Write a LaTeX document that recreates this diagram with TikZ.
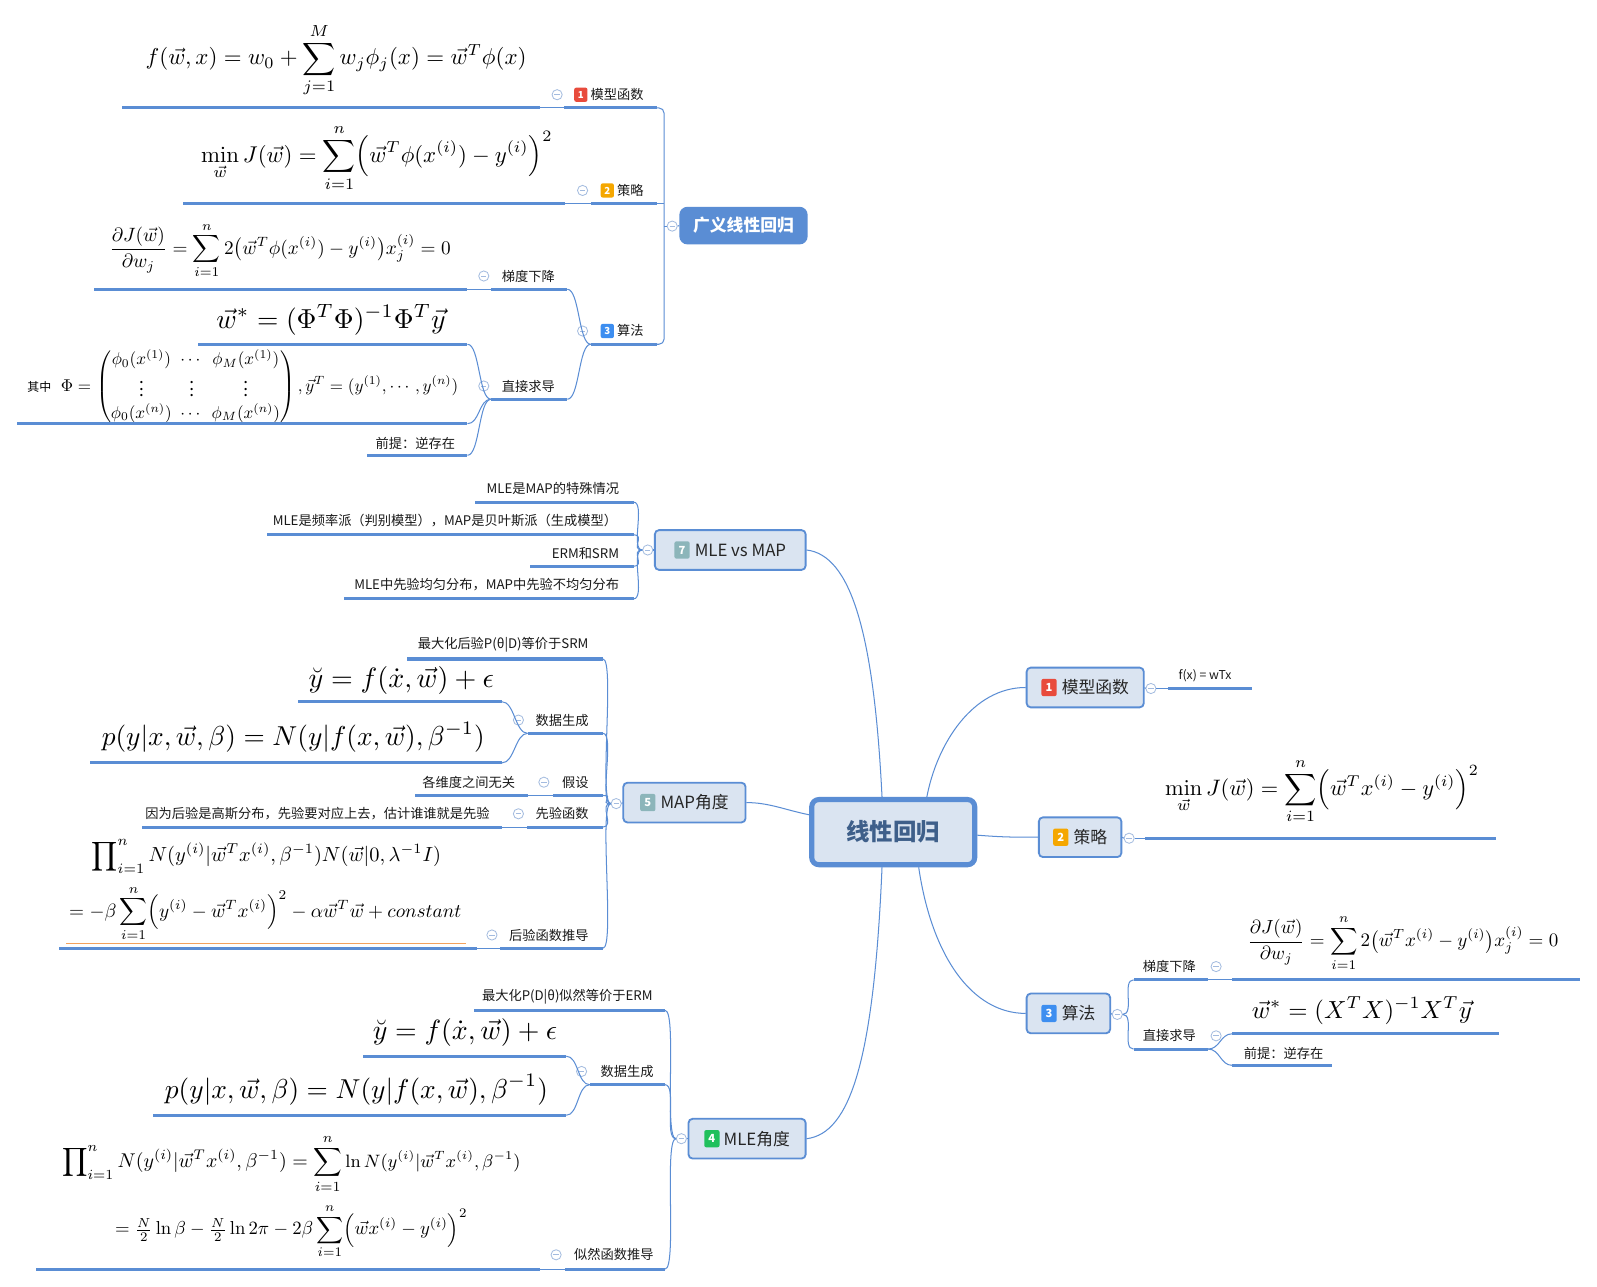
\documentclass[tikz,border=0pt]{standalone}
\usepackage{amsmath}
\usepackage{amssymb}
\usepackage{graphicx}
\usepackage[no-math]{fontspec}
\setmainfont{Noto Sans CJK SC}
\usepackage{tikz}

\definecolor{lineblue}{HTML}{5A8DD4}
\definecolor{topicfill}{HTML}{DAE4F1}
\definecolor{rootblue}{HTML}{3E5F8A}
\definecolor{foldline}{HTML}{A3BBDF}
\definecolor{badred}{HTML}{E84B3C}
\definecolor{badorange}{HTML}{F5A700}
\definecolor{badblue}{HTML}{3D8EF0}
\definecolor{badgreen}{HTML}{20C05C}
\definecolor{badgrey}{HTML}{8CB5BA}
\definecolor{noteorange}{HTML}{F4A25C}

\tikzset{
  badgebox/.style={rounded corners=2pt,inner sep=0pt,minimum width=15pt,minimum height=17pt,
    text=white,font=\fontsize{11}{11}\selectfont\bfseries},
  minibadgebox/.style={badgebox,minimum width=13pt,minimum height=14pt,
    font=\fontsize{9.5}{9.5}\selectfont\bfseries},
  rootnode/.style={draw=lineblue,line width=5pt,fill=topicfill,rounded corners=7pt,
    minimum width=160pt,minimum height=64pt,text=rootblue,font=\fontsize{23}{26}\selectfont\bfseries},
  topic/.style={draw=lineblue,line width=1.8pt,fill=topicfill,rounded corners=4pt,
    minimum height=39pt,inner sep=0pt,text=black!85,font=\fontsize{16.5}{18}\selectfont},
  gnode/.style={fill=lineblue,rounded corners=8pt,minimum width=126pt,minimum height=37pt,
    text=white,font=\fontsize{16.5}{18}\selectfont\bfseries},
  lbl/.style={inner sep=0pt,text=black!90,font=\fontsize{13}{14}\selectfont},
  fnode/.style={inner sep=0pt},
  bar/.style={fill=lineblue,inner sep=0pt,outer sep=0pt,minimum height=3pt},
  fold/.style={circle,draw=foldline,fill=white,line width=0.8pt,inner sep=0pt,minimum size=10pt,
    path picture={\draw [foldline,line width=0.8pt]
      ([xshift=-2.6pt]path picture bounding box.center) -- ([xshift=2.6pt]path picture bounding box.center);}},
  link/.style={draw=lineblue,line width=1pt},
  lbranch/.style={to path={.. controls +(-12pt,0pt) and +(12pt,0pt) .. (\tikztotarget)}},
  rbranch/.style={to path={.. controls +(12pt,0pt) and +(-12pt,0pt) .. (\tikztotarget)}}
}

\newcommand{\fml}[2]{\resizebox{#1pt}{!}{$\displaystyle #2$}}
\newcommand{\badge}[2]{\tikz[baseline=-6.2pt]\node[badgebox,fill=#1]{#2};}
\newcommand{\minibadge}[2]{\tikz[baseline=-4.8pt]\node[minibadgebox,fill=#1]{#2};}

\begin{document}
\begin{tikzpicture}[x=1pt,y=-1pt]
\fill [white] (0,0) rectangle (1568,1263);
\useasboundingbox (0,0) rectangle (1568,1263);

\node (root) at (877,817)    [rootnode] {线性回归};
\node (n1)   at (1065.5,675) [topic,minimum width=115pt] {\badge{badred}{1}\hspace{5pt}模型函数};
\node (n2)   at (1060.5,822) [topic,minimum width=81pt]  {\badge{badorange}{2}\hspace{5pt}策略};
\node (n3)   at (1049,995)   [topic,minimum width=82pt]  {\badge{badblue}{3}\hspace{5pt}算法};
\node (n4)   at (733.5,1118) [topic,minimum width=115pt] {\badge{badgreen}{4}\hspace{4pt}MLE角度};
\node (n5)   at (672,788)    [topic,minimum width=120pt] {\badge{badgrey}{5}\hspace{5pt}MAP角度};
\node (n7)   at (717,540)    [topic,minimum width=148pt] {\badge{badgrey}{7}\hspace{5pt}MLE vs MAP};

\draw [link] ([xshift=-11pt]root.north) .. controls (858,620) and (835,545) .. (n7.east);
\draw [link] ([xshift=33pt]root.north)  .. controls (920,730) and (955,675) .. (n1.west);
\draw [link] ([yshift=17pt]root.west)   .. controls (770,795) and (755,788) .. (n5.east);
\draw [link] ([yshift=-3pt]root.east)   .. controls (985,822) and (995,822) .. (n2.west);
\draw [link] ([xshift=-11pt]root.south) .. controls (858,1040) and (835,1113) .. (n4.east);
\draw [link] ([xshift=25pt]root.south)  .. controls (915,940) and (955,995) .. (n3.west);

\node (c1r)  at (1130,676)    [fold] {};
\node (rb1)  at (1188,676)    [bar,minimum width=82pt] {};
\node (t1r)  at (1157,663)    [lbl,anchor=west,font=\fontsize{12}{13}\selectfont] {f(x) = wTx};
\draw [link] (n1.east) -- (c1r.west);
\draw [link] (c1r.east) -- (rb1.west);

\node (c2r)  at (1108.6,823)  [fold] {};
\node (f14)  at (1298,777)    [fnode] {\fml{308}{\min_{\vec{w}}J(\vec{w})=\sum_{i=1}^{n}\Bigl(\vec{w}^{T}x^{(i)}-y^{(i)}\Bigr)^{2}}};
\node (rb2)  at (1296.5,823)  [bar,minimum width=345pt] {};
\draw [link] (n2.east) -- (c2r.west);
\draw [link] (c2r.east) -- (rb2.west);

\node (c3r)  at (1097,996)    [fold] {};
\node (rb31) at (1149.5,962)  [bar,minimum width=73pt] {};
\node (t31)  at (1122,949)    [lbl,anchor=west] {梯度下降};
\node (c31)  at (1194,949)    [fold] {};
\node (f15)  at (1377.5,926)  [fnode] {\fml{305}{\frac{\partial J(\vec{w})}{\partial w_j}=\sum_{i=1}^{n}2\bigl(\vec{w}^{T}x^{(i)}-y^{(i)}\bigr)x_j^{(i)}=0}};
\node (rf15) at (1380.5,962)  [bar,minimum width=341pt] {};
\node (rb32) at (1149.5,1030) [bar,minimum width=73pt] {};
\node (t32)  at (1122,1017)   [lbl,anchor=west] {直接求导};
\node (c32)  at (1194,1017)   [fold] {};
\node (f16)  at (1337,992)    [fnode] {\fml{216}{\vec{w}^{*}=(X^{T}X)^{-1}X^{T}\vec{y}}};
\node (rf16) at (1341,1015)   [bar,minimum width=262pt] {};
\node (t33)  at (1221,1034)   [lbl,anchor=west] {前提：逆存在};
\node (rf17) at (1259,1046)   [bar,minimum width=98pt] {};
\draw [link] (n3.east) -- (c3r.west);
\draw [link] (c3r.east) to [rbranch] (rb31.west);
\draw [link] (c3r.east) to [rbranch] (rb32.west);
\draw [link] (rb31.east) -- (rf15.west);
\draw [link] (rb32.east) to [rbranch] (rf16.west);
\draw [link] (rb32.east) to [rbranch] (rf17.west);

\node (c7)  at (636,540) [fold] {};
\node (b71) at (544,493) [bar,minimum width=156pt] {};
\node (b72) at (442,525) [bar,minimum width=360pt] {};
\node (b73) at (571,556) [bar,minimum width=102pt] {};
\node (b74) at (480,588) [bar,minimum width=284pt] {};
\node (t71) at (608,480) [lbl,anchor=east] {MLE是MAP的特殊情况};
\node (t72) at (606,511) [lbl,anchor=east] {MLE是频率派（判别模型），MAP是贝叶斯派（生成模型）};
\node (t73) at (608,543) [lbl,anchor=east] {ERM和SRM};
\node (t74) at (608,574) [lbl,anchor=east] {MLE中先验均匀分布，MAP中先验不均匀分布};
\draw [link] (c7.east) -- (n7.west);
\draw [link] (c7.west) to [lbranch] (b71.east);
\draw [link] (c7.west) to [lbranch] (b72.east);
\draw [link] (c7.west) to [lbranch] (b73.east);
\draw [link] (c7.west) to [lbranch] (b74.east);

\node (c5)   at (605,789)   [fold] {};
\node (b51)  at (496,647)   [bar,minimum width=192pt] {};
\node (t51)  at (578,633)   [lbl,anchor=east] {最大化后验P(θ|D)等价于SRM};
\node (b52)  at (555,720)   [bar,minimum width=74pt] {};
\node (t52)  at (578,707)   [lbl,anchor=east] {数据生成};
\node (c52)  at (509,707)   [fold] {};
\node (f6)   at (394,668)   [fnode] {\fml{182}{\breve{y}=f(\dot{x},\vec{w})+\epsilon}};
\node (fb6)  at (393,689)   [bar,minimum width=200pt] {};
\node (f7)   at (288,724)   [fnode] {\fml{376}{p(y|x,\vec{w},\beta)=N(y|f(x,\vec{w}),\beta^{-1})}};
\node (fb7)  at (290.5,749) [bar,minimum width=405pt] {};
\node (b53)  at (567.5,781) [bar,minimum width=49pt] {};
\node (t53)  at (578,768)   [lbl,anchor=east] {假设};
\node (c53)  at (534,768)   [fold] {};
\node (t53c) at (506,768)   [lbl,anchor=east] {各维度之间无关};
\node (fb53) at (462.5,781) [bar,minimum width=111pt] {};
\node (b54)  at (554.5,812) [bar,minimum width=75pt] {};
\node (t54)  at (578,799)   [lbl,anchor=east] {先验函数};
\node (c54)  at (509,799)   [fold] {};
\node (t54c) at (481,799)   [lbl,anchor=east] {因为后验是高斯分布，先验要对应上去，估计谁谁就是先验};
\node (fb54) at (316,812)   [bar,minimum width=354pt] {};
\node (b55)  at (541.5,931) [bar,minimum width=101pt] {};
\node (t55)  at (578,918)   [lbl,anchor=east] {后验函数推导};
\node (c55)  at (483,918)   [fold] {};
\node (f8)   at (261.5,841) [fnode] {\fml{343}{\prod\nolimits_{i=1}^{n}N(y^{(i)}|\vec{w}^{T}x^{(i)},\beta^{-1})N(\vec{w}|0,\lambda^{-1}I)}};
\node (f9)   at (260.5,897) [fnode] {\fml{385}{=-\beta\sum_{i=1}^{n}\Bigl(y^{(i)}-\vec{w}^{T}x^{(i)}\Bigr)^{2}-\alpha\vec{w}^{T}\vec{w}+constant}};
\draw [noteorange,line width=1pt] (65,926) -- (458,926);
\node (fb8)  at (263,931)   [bar,minimum width=410pt] {};
\draw [link] (c5.east) -- (n5.west);
\draw [link] (c5.west) to [lbranch] (b51.east);
\draw [link] (c5.west) to [lbranch] (b52.east);
\draw [link] (c5.west) to [lbranch] (b53.east);
\draw [link] (c5.west) to [lbranch] (b54.east);
\draw [link] (c5.west) to [lbranch] (b55.east);
\draw [link] (b52.west) to [lbranch] (fb6.east);
\draw [link] (b52.west) to [lbranch] (fb7.east);
\draw [link] (fb53.east) -- (b53.west);
\draw [link] (fb54.east) -- (b54.west);
\draw [link] (fb8.east) -- (b55.west);

\node (c4)   at (669,1118)   [fold] {};
\node (b41)  at (559,992)    [bar,minimum width=188pt] {};
\node (t41)  at (641,979)    [lbl,anchor=east] {最大化P(D|θ)似然等价于ERM};
\node (b42)  at (616,1065)   [bar,minimum width=74pt] {};
\node (t42)  at (642,1052)   [lbl,anchor=east] {数据生成};
\node (c42)  at (571,1052)   [fold] {};
\node (f10)  at (456.5,1014) [fnode] {\fml{181}{\breve{y}=f(\dot{x},\vec{w})+\epsilon}};
\node (fb10) at (456,1037)   [bar,minimum width=200pt] {};
\node (f11)  at (350,1070)   [fnode] {\fml{376}{p(y|x,\vec{w},\beta)=N(y|f(x,\vec{w}),\beta^{-1})}};
\node (fb11) at (353,1095)   [bar,minimum width=406pt] {};
\node (b43)  at (604,1246)   [bar,minimum width=98pt] {};
\node (t43)  at (642,1232)   [lbl,anchor=east] {似然函数推导};
\node (c43)  at (546,1232)   [fold] {};
\node (f12)  at (286,1143)   [fnode] {\fml{450}{\prod\nolimits_{i=1}^{n}N(y^{(i)}|\vec{w}^{T}x^{(i)},\beta^{-1})=\sum_{i=1}^{n}\text{\small$\ln N(y^{(i)}|\vec{w}^{T}x^{(i)},\beta^{-1})$}}};
\node (f13)  at (286,1209)   [fnode] {\fml{346}{=\tfrac{N}{2}\ln\beta-\tfrac{N}{2}\ln 2\pi-2\beta\sum_{i=1}^{n}\Bigl(\vec{w}x^{(i)}-y^{(i)}\Bigr)^{2}}};
\node (fb12) at (282.5,1246) [bar,minimum width=495pt] {};
\draw [link] (c4.east) -- (n4.west);
\draw [link] (c4.west) to [lbranch] (b41.east);
\draw [link] (c4.west) to [lbranch] (b42.east);
\draw [link] (c4.west) to [lbranch] (b43.east);
\draw [link] (b42.west) to [lbranch] (fb10.east);
\draw [link] (b42.west) to [lbranch] (fb11.east);
\draw [link] (fb12.east) -- (b43.west);

\node (g)   at (730,221.5) [gnode] {广义线性回归};
\node (cg)  at (660,222)   [fold] {};
\coordinate (gt) at (652,222);
\node (f1)  at (330,59)    [fnode] {\fml{374}{f(\vec{w},x)=w_0+\sum_{j=1}^{M}w_j\phi_j(x)=\vec{w}^{T}\phi(x)}};
\node (fb1) at (325,106)   [bar,minimum width=410pt] {};
\node (cf1) at (547,93)    [fold] {};
\node (t1)  at (632,93)    [lbl,anchor=east] {\minibadge{badred}{1}\hspace{3pt}模型函数};
\node (lb1) at (599.5,106) [bar,minimum width=91pt] {};
\node (f2)  at (370,155)   [fnode] {\fml{345}{\min_{\vec{w}}J(\vec{w})=\sum_{i=1}^{n}\Bigl(\vec{w}^{T}\phi(x^{(i)})-y^{(i)}\Bigr)^{2}}};
\node (fb2) at (367.5,200) [bar,minimum width=375pt] {};
\node (cf2) at (572,187)   [fold] {};
\node (t2)  at (632,187)   [lbl,anchor=east] {\minibadge{badorange}{2}\hspace{3pt}策略};
\node (lb2) at (612.5,200) [bar,minimum width=65pt] {};
\node (f3)  at (275,246)   [fnode] {\fml{335}{\frac{\partial J(\vec{w})}{\partial w_j}=\sum_{i=1}^{n}2\bigl(\vec{w}^{T}\phi(x^{(i)})-y^{(i)}\bigr)x_j^{(i)}=0}};
\node (fb3) at (275.5,284) [bar,minimum width=367pt] {};
\node (cf3) at (475,271)   [fold] {};
\node (t3)  at (545,271)   [lbl,anchor=east] {梯度下降};
\node (lb3) at (519.5,284) [bar,minimum width=75pt] {};
\node (cf4) at (572,325)   [fold] {};
\node (t4)  at (632,325)   [lbl,anchor=east] {\minibadge{badblue}{3}\hspace{3pt}算法};
\node (lb4) at (612.5,338) [bar,minimum width=65pt] {};
\node (f4)  at (325,314)   [fnode] {\fml{225}{\vec{w}^{*}=(\Phi^{T}\Phi)^{-1}\Phi^{T}\vec{y}}};
\node (fb4) at (326.5,338) [bar,minimum width=265pt] {};
\node (f5)  at (238.5,380) [fnode] {\fml{423}{\setlength{\arraycolsep}{2.5pt}\text{\scriptsize 其中}\;\;\Phi=\begin{pmatrix}\phi_0(x^{(1)})&\cdots&\phi_M(x^{(1)})\\ \vdots&\vdots&\vdots\\ \phi_0(x^{(n)})&\cdots&\phi_M(x^{(n)})\end{pmatrix},\vec{y}^{T}=(y^{(1)},\cdots,y^{(n)})}};
\node (fb5) at (238,416)   [bar,minimum width=442pt] {};
\node (cf5) at (475,379)   [fold] {};
\node (t5)  at (545,379)   [lbl,anchor=east] {直接求导};
\node (lb5) at (519.5,392) [bar,minimum width=75pt] {};
\node (t6)  at (447,435)   [lbl,anchor=east] {前提：逆存在};
\node (lb6) at (409.5,447) [bar,minimum width=99pt] {};
\draw [link] (fb1.east) -- (lb1.west);
\draw [link] (fb2.east) -- (lb2.west);
\draw [link] (fb3.east) -- (lb3.west);
\draw [link,rounded corners=5pt] (lb1.east) -| (gt) |- (lb4.east);
\draw [link] (lb2.east) -- (lb2.east -| gt);
\draw [link] (gt) -- (cg.west);
\draw [link] (cg.east) -- (g.west);
\draw [link] (lb4.west) to [lbranch] (lb3.east);
\draw [link] (lb4.west) to [lbranch] (lb5.east);
\draw [link] (lb5.west) to [lbranch] (fb4.east);
\draw [link] (lb5.west) to [lbranch] (fb5.east);
\draw [link] (lb5.west) to [lbranch] (lb6.east);
\end{tikzpicture}
\end{document}
